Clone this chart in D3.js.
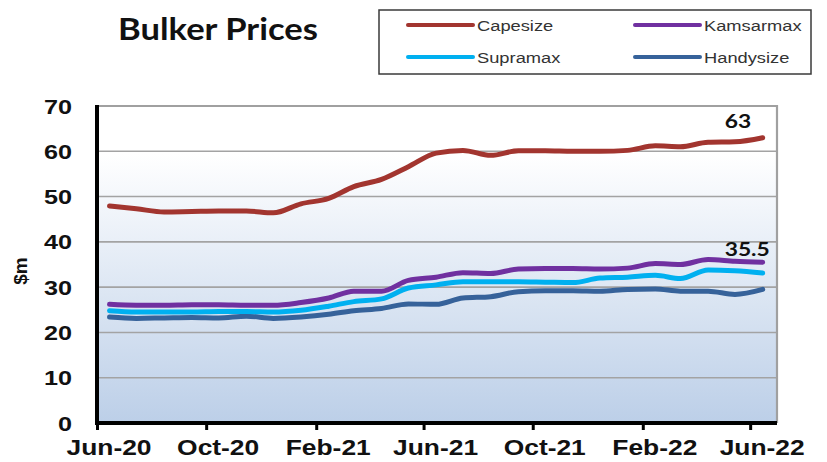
<!DOCTYPE html>
<html><head><meta charset="utf-8">
<script src="https://cdn.jsdelivr.net/npm/d3@7"></script>
<style>body{margin:0;background:#fff;}svg{display:block;}</style>
</head><body>
<svg id="c" width="827" height="462"></svg>
<script>
const months = ["2020-06-15","2020-07-15","2020-08-15","2020-09-15","2020-10-15","2020-11-15","2020-12-15",
"2021-01-15","2021-02-15","2021-03-15","2021-04-15","2021-05-15","2021-06-15","2021-07-15","2021-08-15",
"2021-09-15","2021-10-15","2021-11-15","2021-12-15","2022-01-15","2022-02-15","2022-03-15","2022-04-15",
"2022-05-15","2022-06-15"];
const capesize  = [47.9,47.3,46.6,46.7,46.8,46.8,46.4,48.4,49.6,52.2,53.8,56.6,59.6,60.2,59.1,60.1,60.1,60.0,60.0,60.2,61.2,61.0,62.0,62.1,63.0];
const kamsarmax = [26.2,26.0,26.0,26.1,26.1,26.0,26.0,26.6,27.6,29.1,29.1,31.5,32.2,33.2,33.0,34.0,34.1,34.1,34.0,34.2,35.2,35.0,36.1,35.7,35.5];
const supramax  = [24.8,24.5,24.5,24.5,24.6,24.6,24.5,24.9,25.8,26.8,27.4,29.8,30.5,31.2,31.2,31.2,31.1,31.0,32.0,32.2,32.6,31.9,33.8,33.6,33.1];
const handysize = [23.4,23.1,23.2,23.3,23.2,23.6,23.1,23.4,24.0,24.8,25.3,26.3,26.2,27.6,27.9,29.0,29.2,29.2,29.1,29.5,29.6,29.1,29.1,28.4,29.5];
const seriesNames = ["Capesize","Kamsarmax","Supramax","Handysize"];
const tickDates = ["2020-06-01","2020-10-01","2021-02-01","2021-06-01","2021-10-01","2022-02-01","2022-06-01"];
const tickLabels = ["Jun-20","Oct-20","Feb-21","Jun-21","Oct-21","Feb-22","Jun-22"];
const yTicks = [0,10,20,30,40,50,60,70];
const endLabels = ["63","35.5"];

const colors = {Capesize:"#A2352F",Kamsarmax:"#7030A0",Supramax:"#00B0F0",Handysize:"#36629A"};
const values = {Capesize:capesize,Kamsarmax:kamsarmax,Supramax:supramax,Handysize:handysize};
const parse = d3.utcParse("%Y-%m-%d");
const SX = 1.2;

const svg = d3.select("#c");
const L=97,R=777,T=106,B=423;
const x = d3.scaleUtc().domain([parse("2020-06-01"),parse("2022-07-01")]).range([L,R]);
const y = d3.scaleLinear().domain([0,70]).range([B,T]);

const defs = svg.append("defs");
const g = defs.append("linearGradient").attr("id","bg").attr("x1",0).attr("y1",0).attr("x2",0).attr("y2",1);
g.append("stop").attr("offset","0").attr("stop-color","#ffffff");
g.append("stop").attr("offset","0.15").attr("stop-color","#ffffff");
g.append("stop").attr("offset","1").attr("stop-color","#BCCFE8");
svg.append("rect").attr("x",L).attr("y",T).attr("width",R-L).attr("height",B-T).attr("fill","url(#bg)");

// gridlines
svg.append("g").selectAll("line").data(yTicks.filter(d=>d>0&&d<70)).join("line")
  .attr("x1",L).attr("x2",R).attr("y1",d=>y(d)).attr("y2",d=>y(d))
  .attr("stroke","#A3A3A3").attr("stroke-width",1.6);
// top/right border
svg.append("path").attr("d",`M${L},${T}H${R}V${B}`).attr("fill","none").attr("stroke","#A0A0A0").attr("stroke-width",2.2);

// x axis
const xAxis = d3.axisBottom(x).tickValues(tickDates.map(parse)).tickSize(7).tickFormat("");
const xa = svg.append("g").attr("transform",`translate(0,${B})`).call(xAxis);
xa.select(".domain").remove();
xa.selectAll(".tick line").attr("stroke","#000").attr("stroke-width",3);
svg.append("line").attr("x1",L-2).attr("x2",R).attr("y1",B).attr("y2",B).attr("stroke","#000").attr("stroke-width",4);
svg.append("line").attr("x1",L).attr("x2",L).attr("y1",T-1).attr("y2",B+2).attr("stroke","#000").attr("stroke-width",4);

svg.append("g").selectAll("text").data(tickDates).join("text")
  .attr("transform",(d)=>`translate(${x(parse(d))+12},455) scale(${SX},1)`)
  .attr("text-anchor","middle").attr("font-family","Liberation Sans, Arial, sans-serif")
  .attr("font-weight","bold").attr("font-size",22).attr("fill","#111")
  .text((d,i)=>tickLabels[i]);

// y labels
svg.append("g").selectAll("text").data(yTicks).join("text")
  .attr("transform",d=>`translate(72,${y(d)+7.5}) scale(${SX},1)`)
  .attr("text-anchor","end").attr("font-family","Liberation Sans, Arial, sans-serif")
  .attr("font-weight","bold").attr("font-size",21).attr("fill","#111").text(d=>d);
svg.append("text").attr("transform","translate(27,271) rotate(-90)")
  .attr("text-anchor","middle").attr("font-family","Liberation Sans, Arial, sans-serif")
  .attr("font-weight","bold").attr("font-size",19).attr("fill","#111").text("$m");

// lines
const line = d3.line().x((d,i)=>x(parse(months[i]))).y(d=>y(d)).curve(d3.curveMonotoneX);
["Handysize","Supramax","Kamsarmax","Capesize"].forEach(n=>{
  svg.append("path").datum(values[n]).attr("d",line).attr("fill","none")
    .attr("stroke",colors[n]).attr("stroke-width",5).attr("stroke-linejoin","round").attr("stroke-linecap","round");
});

// end labels
const last = months.length-1;
const lx = x(parse(months[last]));
svg.append("text").attr("transform",`translate(${lx-38},${y(capesize[last])-10}) scale(${SX},1)`)
  .attr("font-family","Lato, sans-serif").attr("font-weight","bold").attr("font-size",19).attr("fill","#111").text(endLabels[0]);
svg.append("text").attr("transform",`translate(${lx-38},${y(kamsarmax[last])-6}) scale(${SX},1)`)
  .attr("font-family","Lato, sans-serif").attr("font-weight","bold").attr("font-size",19).attr("fill","#111").text(endLabels[1]);

// title
svg.append("text").attr("x",118).attr("y",40).attr("textLength",200).attr("lengthAdjust","spacingAndGlyphs")
  .attr("font-family","Lato, sans-serif").attr("font-weight","bold").attr("font-size",30).attr("fill","#111").text("Bulker Prices");

// legend
svg.append("rect").attr("x",379).attr("y",10).attr("width",432).attr("height",64)
  .attr("fill","#fff").attr("stroke","#3a3a3a").attr("stroke-width",1.5);
const legPos = [[408,25],[635,25],[408,57],[635,57]];
const legOrder = ["Capesize","Kamsarmax","Supramax","Handysize"];
legOrder.forEach((n,i)=>{
  const [lx0,ly0]=legPos[i];
  svg.append("line").attr("x1",lx0).attr("x2",lx0+65).attr("y1",ly0).attr("y2",ly0)
    .attr("stroke",colors[n]).attr("stroke-width",4).attr("stroke-linecap","round");
  svg.append("text").attr("transform",`translate(${lx0+69},${ly0+5.5}) scale(1.22,1)`)
    .attr("font-family","Liberation Sans, Arial, sans-serif").attr("font-size",15).attr("fill","#333").text(n);
});
</script>
</body></html>
